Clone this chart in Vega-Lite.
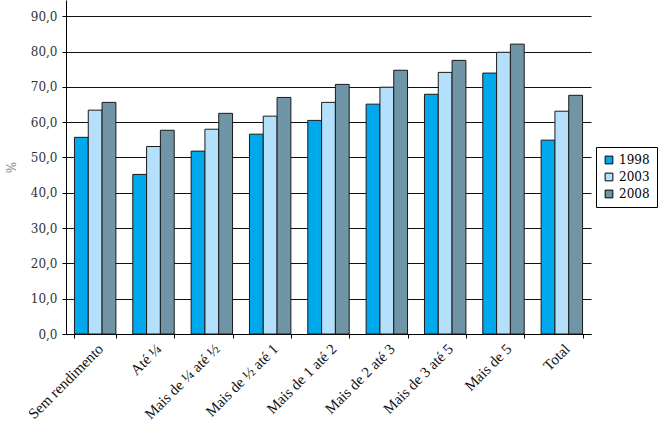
{
  "$schema": "https://vega.github.io/schema/vega-lite/v6.json",
  "autosize": {"type": "none"},
  "width": 525,
  "height": 334,
  "padding": {"left": 66, "top": 0, "right": 67, "bottom": 91},
  "background": "white",
  "config": {"view": {"stroke": null}, "font": "Liberation Serif"},
  "data": {"values": [
    {"cat": "Sem rendimento", "ano": "1998", "v": 55.7},
    {"cat": "Sem rendimento", "ano": "2003", "v": 63.4},
    {"cat": "Sem rendimento", "ano": "2008", "v": 65.6},
    {"cat": "Até ¼", "ano": "1998", "v": 45.2},
    {"cat": "Até ¼", "ano": "2003", "v": 53.1},
    {"cat": "Até ¼", "ano": "2008", "v": 57.7},
    {"cat": "Mais de ¼ até ½", "ano": "1998", "v": 51.8},
    {"cat": "Mais de ¼ até ½", "ano": "2003", "v": 58.0},
    {"cat": "Mais de ¼ até ½", "ano": "2008", "v": 62.5},
    {"cat": "Mais de ½ até 1", "ano": "1998", "v": 56.6},
    {"cat": "Mais de ½ até 1", "ano": "2003", "v": 61.7},
    {"cat": "Mais de ½ até 1", "ano": "2008", "v": 67.0},
    {"cat": "Mais de 1 até 2", "ano": "1998", "v": 60.5},
    {"cat": "Mais de 1 até 2", "ano": "2003", "v": 65.6},
    {"cat": "Mais de 1 até 2", "ano": "2008", "v": 70.7},
    {"cat": "Mais de 2 até 3", "ano": "1998", "v": 65.1},
    {"cat": "Mais de 2 até 3", "ano": "2003", "v": 69.9},
    {"cat": "Mais de 2 até 3", "ano": "2008", "v": 74.7},
    {"cat": "Mais de 3 até 5", "ano": "1998", "v": 67.9},
    {"cat": "Mais de 3 até 5", "ano": "2003", "v": 74.1},
    {"cat": "Mais de 3 até 5", "ano": "2008", "v": 77.5},
    {"cat": "Mais de 5", "ano": "1998", "v": 73.9},
    {"cat": "Mais de 5", "ano": "2003", "v": 79.8},
    {"cat": "Mais de 5", "ano": "2008", "v": 82.1},
    {"cat": "Total", "ano": "1998", "v": 54.9},
    {"cat": "Total", "ano": "2003", "v": 63.1},
    {"cat": "Total", "ano": "2008", "v": 67.6}
  ]},
  "mark": {"type": "bar", "stroke": "#1a1a1a", "strokeWidth": 1},
  "encoding": {
    "x": {
      "field": "cat", "type": "nominal", "sort": null, "title": null,
      "scale": {"paddingInner": 0.29, "paddingOuter": 0.145},
      "axis": {
        "labelAngle": -45, "labelFont": "Liberation Serif", "labelFontSize": 15,
        "labelColor": "#111", "domainColor": "#000", "tickColor": "#000",
        "tickBand": "extent", "tickSize": 4, "labelPadding": 3, "grid": false,
        "labelOverlap": false
      }
    },
    "xOffset": {"field": "ano", "type": "nominal"},
    "y": {
      "field": "v", "type": "quantitative", "title": "%",
      "scale": {"domain": [0, 94.6], "nice": false},
      "axis": {
        "values": [0, 10, 20, 30, 40, 50, 60, 70, 80, 90],
        "labelExpr": "replace(format(datum.value, '.1f'), '.', ',')",
        "labelFont": "DejaVu Serif", "labelFontSize": 12, "labelColor": "#333",
        "labelPadding": 5,
        "grid": true, "gridColor": "#111", "gridOpacity": 1,
        "domainColor": "#000", "tickColor": "#000", "tickSize": 4,
        "titleFont": "DejaVu Serif", "titleFontSize": 12, "titleFontWeight": "normal",
        "titleColor": "#888", "titlePadding": 12
      }
    },
    "color": {
      "field": "ano", "type": "nominal", "title": null,
      "scale": {"domain": ["1998", "2003", "2008"], "range": ["#00a8ec", "#b5e0fb", "#6f95a6"]},
      "legend": {
        "orient": "none", "legendX": 530, "legendY": 147,
        "strokeColor": "#000", "padding": 7, "symbolType": "square",
        "symbolStrokeColor": "#000", "symbolStrokeWidth": 1, "symbolSize": 60,
        "labelFont": "DejaVu Serif", "labelFontSize": 12, "labelColor": "#000",
        "rowPadding": 5, "fillColor": "white"
      }
    }
  }
}
